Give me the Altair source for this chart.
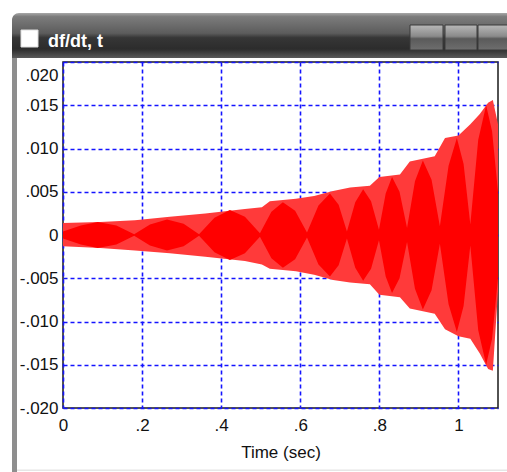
import altair as alt
import pandas as pd

# ---- data ----
# outer (striped) envelope of the signal
outer_t = [0.000, 0.094, 0.182, 0.270, 0.360, 0.460, 0.503, 0.523, 0.589, 0.635,
           0.683, 0.726, 0.776, 0.800, 0.852, 0.877, 0.940, 0.966, 1.000, 1.030,
           1.054, 1.075, 1.087, 1.100]
outer_hi = [0.0014, 0.0015, 0.0017, 0.0021, 0.0025, 0.0030, 0.0032, 0.0039, 0.0042, 0.0045,
            0.0051, 0.0055, 0.0057, 0.0067, 0.0070, 0.0085, 0.0091, 0.0112, 0.0115, 0.0128,
            0.0140, 0.0153, 0.0156, 0.0128]
outer_lo = [-0.0013, -0.0015, -0.0018, -0.0021, -0.0025, -0.0030, -0.0034, -0.0039, -0.0042, -0.0046,
            -0.0052, -0.0055, -0.0057, -0.0069, -0.0072, -0.0085, -0.0091, -0.0109, -0.0117, -0.0120,
            -0.0137, -0.0155, -0.0157, -0.0065]

# inner (solid) beat lobes: time and half-amplitude
inner_t = [0.000, 0.045, 0.088, 0.135, 0.180, 0.220, 0.263, 0.305, 0.344, 0.383,
           0.422, 0.460, 0.498, 0.527, 0.556, 0.587, 0.617, 0.646, 0.675, 0.697,
           0.718, 0.739, 0.759, 0.779, 0.799, 0.816, 0.832, 0.851, 0.870, 0.890,
           0.910, 0.932, 0.953, 0.975, 0.996, 1.013, 1.030, 1.050, 1.070, 1.085, 1.100]
inner_amp = [0.0004, 0.0011, 0.0015, 0.0011, 0.0001, 0.0012, 0.0018, 0.0013, 0.0001, 0.0020,
             0.0029, 0.0021, 0.0002, 0.0027, 0.0038, 0.0028, 0.0003, 0.0034, 0.0048, 0.0035,
             0.0004, 0.0038, 0.0053, 0.0039, 0.0006, 0.0048, 0.0067, 0.0050, 0.0008, 0.0062,
             0.0086, 0.0064, 0.0010, 0.0080, 0.0112, 0.0082, 0.0012, 0.0110, 0.0150, 0.0120, 0.0050]

y_ticks = [-0.02, -0.015, -0.01, -0.005, 0, 0.005, 0.01, 0.015, 0.02]
x_ticks = [0, 0.2, 0.4, 0.6, 0.8, 1.0]
window_title = "df/dt, t"
x_title = "Time (sec)"

outer_df = pd.DataFrame({"t": outer_t, "hi": outer_hi, "lo": outer_lo})
inner_df = pd.DataFrame({"t": inner_t, "hi": inner_amp, "lo": [-a for a in inner_amp]})

FONT = "Liberation Sans, Arial"
W, H = 435, 346

xs = alt.Scale(domain=[0, 1.1], nice=False, zero=False)
ys = alt.Scale(domain=[-0.02, 0.02], nice=False)

x_axis = alt.Axis(
    values=x_ticks, title=x_title, grid=True, ticks=False, tickSize=0, domain=False,
    labelExpr="datum.value == 0 ? '0' : datum.value == 1 ? '1' : replace(format(datum.value, '.1f'), '0.', '.')",
    labelPadding=9, titlePadding=11, labelFlush=False,
)
y_axis = alt.Axis(
    values=y_ticks, title=None, grid=True, ticks=False, tickSize=0, domain=False,
    labelExpr="datum.value == 0 ? '0' : (datum.value < 0 ? '-' : '') + replace(format(abs(datum.value), '.3f'), '0.', '.')",
    labelPadding=5, labelFlush=False,
    labelOffset=alt.condition("datum.value >= 0.019", alt.value(13), alt.value(0)),
)

outer = alt.Chart(outer_df).mark_area(color="#ff3a3a", opacity=1).encode(
    x=alt.X("t:Q", scale=xs, axis=x_axis),
    y=alt.Y("hi:Q", scale=ys, axis=y_axis),
    y2="lo:Q",
)
inner = alt.Chart(inner_df).mark_area(color="#ff0000").encode(
    x=alt.X("t:Q", scale=xs),
    y=alt.Y("hi:Q", scale=ys),
    y2="lo:Q",
)

one = alt.Data(values=[{"k": 1}])

bar_grad = alt.LinearGradient(
    gradient="linear", x1=0, x2=0, y1=0, y2=1,
    stops=[
        alt.GradientStop(offset=0, color="#a8a8a8"),
        alt.GradientStop(offset=0.08, color="#7c7c7c"),
        alt.GradientStop(offset=0.45, color="#5c5c5c"),
        alt.GradientStop(offset=0.55, color="#363636"),
        alt.GradientStop(offset=0.8, color="#2c2c2c"),
        alt.GradientStop(offset=1, color="#5a5a5a"),
    ],
)
btn_grad = alt.LinearGradient(
    gradient="linear", x1=0, x2=0, y1=0, y2=1,
    stops=[
        alt.GradientStop(offset=0, color="#b8b8b8"),
        alt.GradientStop(offset=0.45, color="#8a8a8a"),
        alt.GradientStop(offset=0.55, color="#5a5a5a"),
        alt.GradientStop(offset=1, color="#6e6e6e"),
    ],
)

titlebar = alt.Chart(one).mark_rect(fill=bar_grad, cornerRadiusTopLeft=7).encode(
    x=alt.value(-51), x2=alt.value(460), y=alt.value(-49), y2=alt.value(-4)
)
buttons = [
    alt.Chart(one).mark_rect(fill=btn_grad, stroke="#3a3a3a", strokeWidth=1).encode(
        x=alt.value(bx), x2=alt.value(bx2), y=alt.value(-37), y2=alt.value(-12)
    )
    for bx, bx2 in [(347, 380), (382, 414), (415, 450)]
]
icon = alt.Chart(one).mark_rect(fill="white", stroke="#dddddd").encode(
    x=alt.value(-42), x2=alt.value(-25), y=alt.value(-32), y2=alt.value(-15)
)
title_text = alt.Chart(one).mark_text(
    text=window_title, align="left", baseline="alphabetic", color="white",
    font="Liberation Sans", fontSize=18, fontWeight="bold",
).encode(x=alt.value(-15), y=alt.value(-15))
left_border = alt.Chart(one).mark_rect(fill="#8e8e8e").encode(
    x=alt.value(-51), x2=alt.value(-46), y=alt.value(-4), y2=alt.value(410)
)
bottom_line = alt.Chart(one).mark_rect(fill="#e6e6e6").encode(
    x=alt.value(-46), x2=alt.value(460), y=alt.value(407.5), y2=alt.value(409)
)

chart = alt.layer(
    outer, inner, titlebar, *buttons, icon, title_text, left_border, bottom_line
).properties(
    width=W, height=H,
    autosize=alt.AutoSizeParams(type="none"),
    padding={"left": 63, "top": 62, "right": 9, "bottom": 64},
    background="white",
).configure_view(
    fill="white", stroke="#1a1a1a", strokeWidth=1.5
).configure_axis(
    gridColor="#1414ff", gridDash=[4, 3], gridWidth=1.6, gridOpacity=1,
    labelFont=FONT, labelFontSize=17, labelColor="#111111",
    titleFont=FONT, titleFontSize=17, titleFontWeight="normal", titleColor="#111111",
)

chart.save("out.html", embed_options={"renderer": "svg", "actions": False})
